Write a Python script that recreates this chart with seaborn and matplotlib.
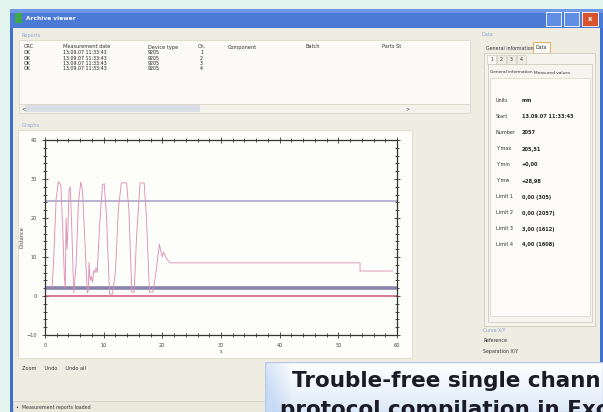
import numpy as np
import pandas as pd
import matplotlib
matplotlib.use("Agg")
import matplotlib.pyplot as plt
import seaborn as sns
from matplotlib.patches import Rectangle
from matplotlib.ticker import MultipleLocator

# ---------------- data ----------------
sig_x = [1.2, 1.5, 1.9, 2.3, 2.7, 3.0, 3.3, 3.45, 3.6, 3.75, 3.9, 4.1, 4.3, 4.55, 4.9,
         5.3, 5.7, 6.1, 6.4, 6.8, 7.2, 7.4, 7.5, 7.7, 7.9, 8.1, 8.3, 8.5, 8.7, 8.9,
         9.3, 9.8, 10.1, 10.5, 11.0, 11.5, 12.0, 12.5, 13.0, 13.9, 14.3, 14.8, 15.2,
         15.6, 16.2, 16.9, 17.3, 17.8, 18.4, 18.9, 19.5, 19.8, 20.0, 20.2, 20.6, 21.0,
         21.3, 53.7, 53.7, 59.3]
sig_y = [2.0, 10.0, 25.0, 29.3, 28.5, 18.0, 5.0, 2.0, 20.0, 12.0, 17.0, 27.0, 28.0, 18.0, 0.8,
         8.0, 24.0, 29.2, 27.0, 14.0, 0.8, 1.5, 8.6, 4.0, 5.0, 3.5, 6.5, 6.0, 7.2, 6.0,
         18.0, 28.5, 28.8, 20.0, 0.5, 0.5, 6.0, 22.0, 29.0, 29.0, 22.0, 1.0, 1.0,
         15.0, 29.0, 29.0, 20.0, 1.0, 1.0, 6.0, 13.3, 11.0, 10.0, 11.3, 10.0, 9.0,
         8.5, 8.5, 6.4, 6.4]
limit_vals = [24.3, 2.0, 0.0]
limit_cols = ["#a69ec4", "#8a84a8", "#d2507c"]
limit_lw = [1.1, 2.6, 1.1]

x_ticks = [0, 10, 20, 30, 40, 50, 60]
y_ticks = [-10, 0, 10, 20, 30, 40]

table_headers = ["CRC", "Measurement date", "Device type", "Ch.", "Component", "Batch", "Parts St"]
table_rows = [["OK", "13.09.07 11:33:43", "9205", "1"],
              ["OK", "13.09.07 11:33:43", "9205", "2"],
              ["OK", "13.09.07 11:33:43", "9205", "3"],
              ["OK", "13.09.07 11:33:43", "9205", "4"]]
info_labels = ["Units", "Start", "Number", "Y max", "Y min", "Y mw",
               "Limit 1", "Limit 2", "Limit 3", "Limit 4"]
info_values = ["mm", "13.09.07 11:33:43", "2057", "205,51", "+0,00", "+28,98",
               "0,00 (305)", "0,00 (2057)", "3,00 (1612)", "4,00 (1608)"]

# ---------------- figure ----------------
sns.set_style("white")
plt.rcParams["font.family"] = ["DejaVu Sans"]
W, H = 603, 412
fig = plt.figure(figsize=(W / 100, H / 100), dpi=100)
fig.patch.set_facecolor("#e3f3ee")


def rect(x0, y0, x1, y1, z=-10, **kw):
    r = Rectangle((x0 / W, 1 - y1 / H), (x1 - x0) / W, (y1 - y0) / H,
                  transform=fig.transFigure, zorder=z, **kw)
    fig.add_artist(r)
    return r


def txt(x, y, s, size=3.6, color="#333333", z=5, **kw):
    return fig.text(x / W, 1 - y / H, s, fontsize=size, color=color, va="center",
                    zorder=z, **kw)


# window
rect(10, 9, 603, 412, facecolor="#3f6fcf", edgecolor="none")
rect(13, 28, 600, 412, facecolor="#efece2", edgecolor="none")
# title bar
rect(10, 9, 603, 28, facecolor="#4a7ad6", edgecolor="none")
rect(10, 9, 603, 13, facecolor="#6f98e6", edgecolor="none")
rect(15, 13, 22, 23, facecolor="#3fa64a", edgecolor="none")
txt(26, 19, "Archive viewer", size=4.2, color="white", weight="bold")
rect(546, 12, 561, 26, facecolor="#5f8ee3", edgecolor="white", linewidth=0.6)
rect(564, 12, 579, 26, facecolor="#5f8ee3", edgecolor="white", linewidth=0.6)
rect(582, 12, 598, 26, facecolor="#d8532e", edgecolor="white", linewidth=0.6)
txt(590, 19, "x", size=5, color="white", weight="bold", ha="center")

# Reports
txt(22, 35, "Reports", color="#8ea7d6")
rect(19, 40, 470, 104, facecolor="#fbfaf6", edgecolor="#d8d4c4", linewidth=0.5)
hx = [24, 63, 148, 198, 228, 305, 382]
for x, h in zip(hx, table_headers):
    txt(x, 47, h)
for i, row in enumerate(table_rows):
    for x, v in zip([24, 63, 148, 200], row):
        txt(x, 53 + i * 5.2, v, size=3.4, color="#222222")
rect(19, 104, 470, 113, facecolor="#f3f1ea", edgecolor="#d8d4c4", linewidth=0.5)
rect(25, 105, 200, 112, facecolor="#d9dde6", edgecolor="none")
txt(22, 108.5, "<", size=3.4)
txt(405, 108.5, ">", size=3.4)

# Graphs panel
txt(22, 125, "Graphs", color="#8ea7d6")
rect(18, 130, 412, 358, facecolor="#fdfdf9", edgecolor="#d8d4c4", linewidth=0.5)
txt(22, 368, "Zoom     Undo     Undo all", size=3.6)

# status bar
rect(13, 401, 600, 412, facecolor="#ebe8dc", edgecolor="#d0ccbc", linewidth=0.5)
txt(16, 407, "\u2022  Measurement reports loaded", size=3.4)

# Right data panel
rect(472, 28, 598, 396, facecolor="#efece2", edgecolor="none")
txt(482, 35, "Data", color="#8ea7d6")
txt(486, 48, "General information", size=3.4)
rect(533, 42, 550, 53, facecolor="#fbfaf6", edgecolor="#e0a040", linewidth=0.6)
txt(536, 47.5, "Data", size=3.4)
rect(484, 53, 595, 326, facecolor="#f6f4ee", edgecolor="#c8c4b4", linewidth=0.5)
for i, s in enumerate(["1", "2", "3", "4"]):
    rect(487 + i * 10, 55, 496 + i * 10, 64, facecolor="#fbfaf6" if i == 0 else "#efece2",
         edgecolor="#c8c4b4", linewidth=0.4, z=-9)
    txt(491.5 + i * 10, 59.5, s, size=3.4, ha="center")
rect(488, 64, 592, 322, facecolor="#f6f4ee", edgecolor="#c8c4b4", linewidth=0.5, z=-9)
txt(490, 72, "General information", size=3.1)
txt(534, 72.5, "Measured values", size=3.1)
rect(490, 78, 590, 316, facecolor="#fcfbf8", edgecolor="#d8d4c4", linewidth=0.5, z=-8)
for i, (lab, val) in enumerate(zip(info_labels, info_values)):
    y = 101 + i * 16
    txt(496, y, lab, size=3.5, color="#333333")
    txt(522, y, val, size=3.6, color="#222222", weight="bold")
txt(483, 330, "Curve X/Y", size=3.3, color="#8ea7d6")
txt(483, 340, "Reference", size=3.4)
txt(483, 352, "Separation X/Y", size=3.4)

# ---------------- main chart ----------------
ax = fig.add_axes([45 / W, 1 - 335 / H, (397 - 45) / W, (335 - 140) / H])
ax.set_facecolor("#fdfdf9")
df = pd.DataFrame({"x": sig_x, "y": sig_y})
for v, c, lw in zip(limit_vals, limit_cols, limit_lw):
    ax.axhline(v, color=c, lw=lw, zorder=2)
sns.lineplot(data=df, x="x", y="y", sort=False, estimator=None, color="#dc92b9",
             lw=0.65, ax=ax, zorder=3)
ax.set_xlim(0, 60)
ax.set_ylim(-10, 40)
ax.set_xticks(x_ticks)
ax.set_yticks(y_ticks)
ax.xaxis.set_minor_locator(MultipleLocator(2))
ax.yaxis.set_minor_locator(MultipleLocator(2))
ax.tick_params(which="both", direction="inout", top=True, right=True, bottom=True, left=True,
               color="#333333", labelsize=3.6, labelcolor="#444444", width=0.6)
ax.tick_params(which="major", length=4)
ax.tick_params(which="minor", length=2.5)
for s in ax.spines.values():
    s.set_color("#333333")
    s.set_linewidth(0.9)
ax.set_xlabel("s", fontsize=3.6, color="#444444", labelpad=1)
ax.set_ylabel("Distance", fontsize=3.6, color="#444444", labelpad=1.5)

# ---------------- caption overlay ----------------
cax = fig.add_axes([265 / W, 0, (603 - 265) / W, (412 - 362) / H], zorder=10)
gx = np.linspace(0, 1, 200)
gy = np.linspace(0, 1, 60)
GX, GY = np.meshgrid(gx, gy)
t = np.clip(np.maximum(1 - GX / 0.08, 0) * 0.7 + GY * 0.6, 0, 1)
c0 = np.array([1.0, 1.0, 1.0])
c1 = np.array([0.78, 0.86, 0.96])
img = c0[None, None, :] * (1 - t[..., None]) + c1[None, None, :] * t[..., None]
cax.imshow(img, aspect="auto", extent=[0, 1, 0, 1], origin="upper")
cax.set_axis_off()
cax.add_patch(Rectangle((0, 0), 1, 1, transform=cax.transAxes, fill=False,
                        edgecolor="#b8c8e8", lw=1.0))
fig.text(292 / W, 1 - 381 / H, "Trouble-free single chann", fontsize=15.5,
         family=["DejaVu Sans"], weight="bold", color="#1b1b26", va="center",
         zorder=11)
fig.text(280 / W, 1 - 410 / H, "protocol compilation in Exc", fontsize=15.5,
         family=["DejaVu Sans"], weight="bold", color="#1b1b26", va="center",
         zorder=11)

fig.savefig("out.png", dpi=100)
